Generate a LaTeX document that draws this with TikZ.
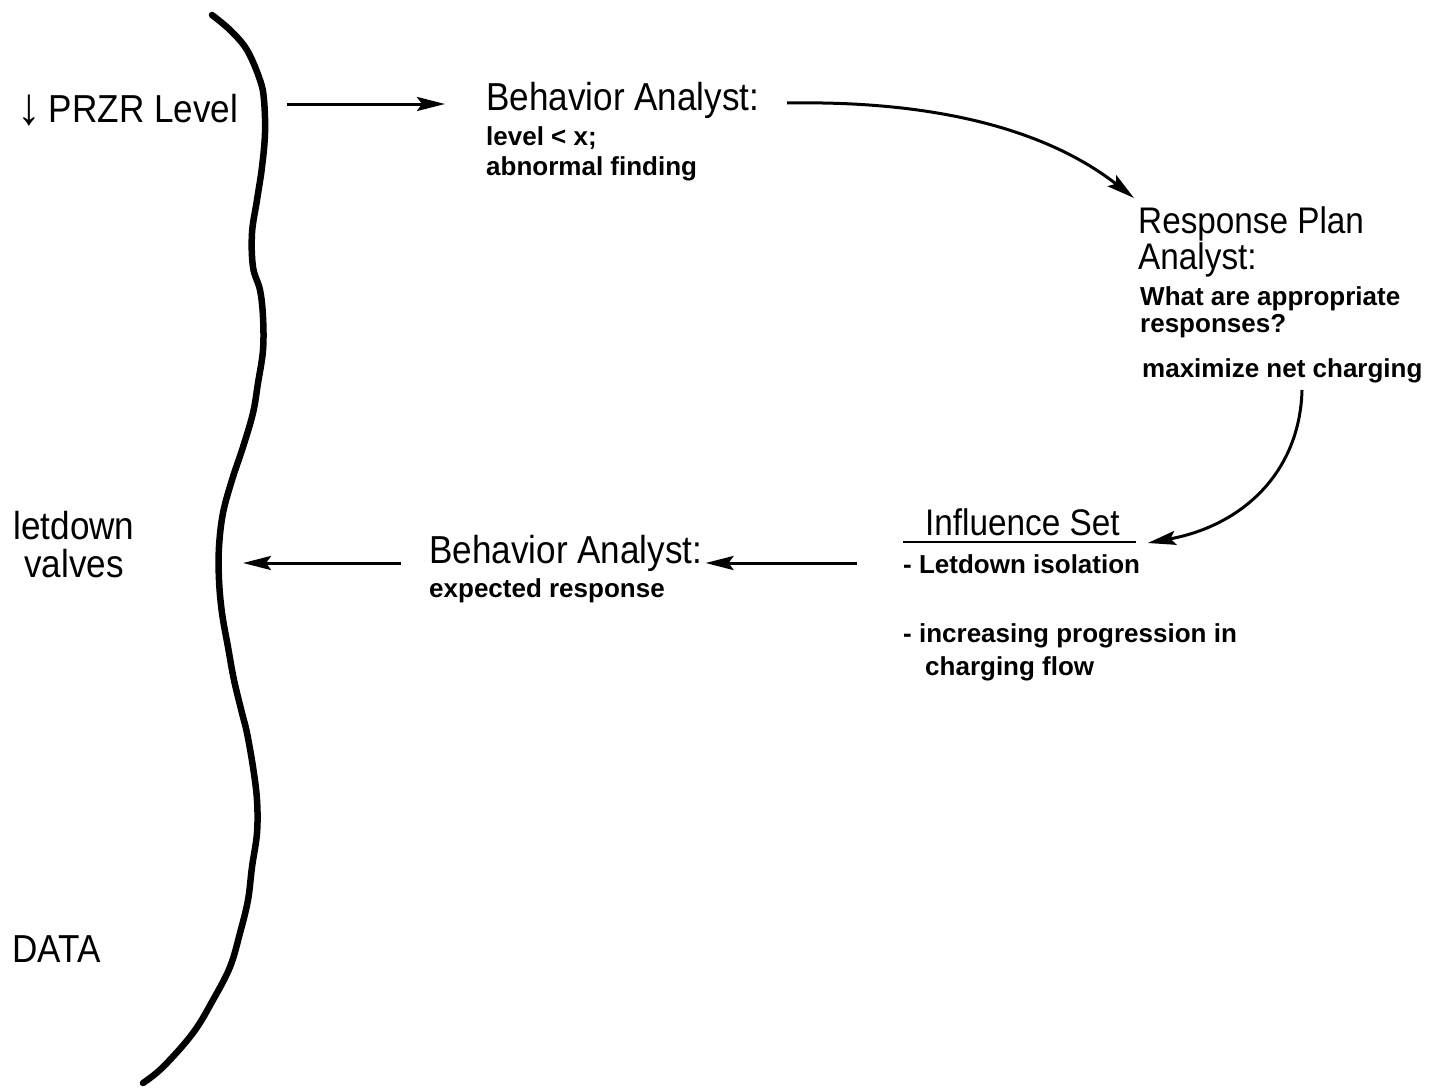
\documentclass[tikz,border=0pt]{standalone}
\usepackage{fontspec}
\setmainfont{Liberation Sans}
\newfontfamily\headfont[FakeStretch=0.9]{Liberation Sans}
\usetikzlibrary{arrows.meta}
\begin{document}
\begin{tikzpicture}[x=1pt,y=-1pt,
  head/.style={inner sep=0pt, anchor=base west, font=\headfont\fontsize{37}{33}\selectfont},
  bighead/.style={head, font=\headfont\fontsize{39}{35}\selectfont},
  note/.style={inner sep=0pt, anchor=base west, font=\bfseries\fontsize{26}{30}\selectfont},
  link/.style={line width=3pt, -{Stealth[length=28pt,width=14pt,inset=5pt]}},
  brace/.style={line width=6.5pt, line cap=round, line join=round},
  rule/.style={line width=2.8pt}]
\useasboundingbox (0,0) rectangle (1431,1087);

% data side (multi-line nodes are anchored at the baseline of their last line)
\node[bighead] (przr) at (17,122) {\raisebox{-2pt}{\scalebox{1.35}{↓}}\hspace{8pt}PRZR Level};
\node[bighead, anchor=base, align=center, font=\headfont\fontsize{39}{38}\selectfont] (ld) at (74,577) {letdown\\valves};
\node[bighead] (data) at (12,962) {DATA};

% wavy boundary between data and analysts
\draw[brace] plot[smooth, tension=0.6] coordinates {(212,15) (230,30) (247,50) (260,80) (264,100) (265,133) (262,167) (257,200) (252,233) (253,267) (260,290) (263,317) (263,350) (258,383) (253,413) (243,447) (232,480) (223,513) (219,547) (219,580) (222,613) (228,647) (234,680) (242,713) (247,733) (253,767) (257,800) (257,833) (252,867) (248,900) (240,933) (230,967) (213,1000) (193,1033) (163,1067) (143,1083)};

% first behavior analyst
\node[bighead] (ba1) at (486,110) {Behavior Analyst:};
\node[note] (ba1a) at (486,145) {level < x;};
\node[note] (ba1b) at (486,175) {abnormal finding};

% response plan analyst
\node[head, align=left] (rp) at (1138,269) {Response Plan\\Analyst:};
\node[note, align=left, font=\bfseries\fontsize{26}{27}\selectfont] (rpq) at (1140,332) {What are appropriate\\responses?};
\node[note] (rpa) at (1142,377) {maximize net charging};

% influence set
\node[head] (inf) at (925,535) {Influence Set};
\draw[rule] ([shift={(-22,7)}]inf.base west) -- ([shift={(16,7)}]inf.base east);
\node[note] (inf1) at (903,573) {- Letdown isolation};
\node[note] (inf2) at (903,642) {- increasing progression in};
\node[note] (inf3) at (925,675) {charging flow};

% second behavior analyst
\node[bighead] (ba2) at (429,563) {Behavior Analyst:};
\node[note] (ba2a) at (429,597) {expected response};

% connectors
\coordinate (a1s) at (287,104);
\draw[link] (a1s) -- ([xshift=-41pt]ba1.west |- a1s);

\coordinate (c1s) at (787,103);
\draw[link] (c1s) .. controls (960,100) and (1060,140) .. ([shift={(-4,-71)}]rp.base west);

\draw[link] ([shift={(160,13)}]rpa.base west) .. controls (1300,470) and (1245,525) .. ([shift={(28,8)}]inf.base east);

\coordinate (b2s) at (857,563);
\draw[link] (b2s) -- ([xshift=3pt]ba2.east |- b2s);

\coordinate (b1e) at (243,563);
\draw[link] ([xshift=-28pt]ba2.west |- b1e) -- (b1e);
\end{tikzpicture}
\end{document}
